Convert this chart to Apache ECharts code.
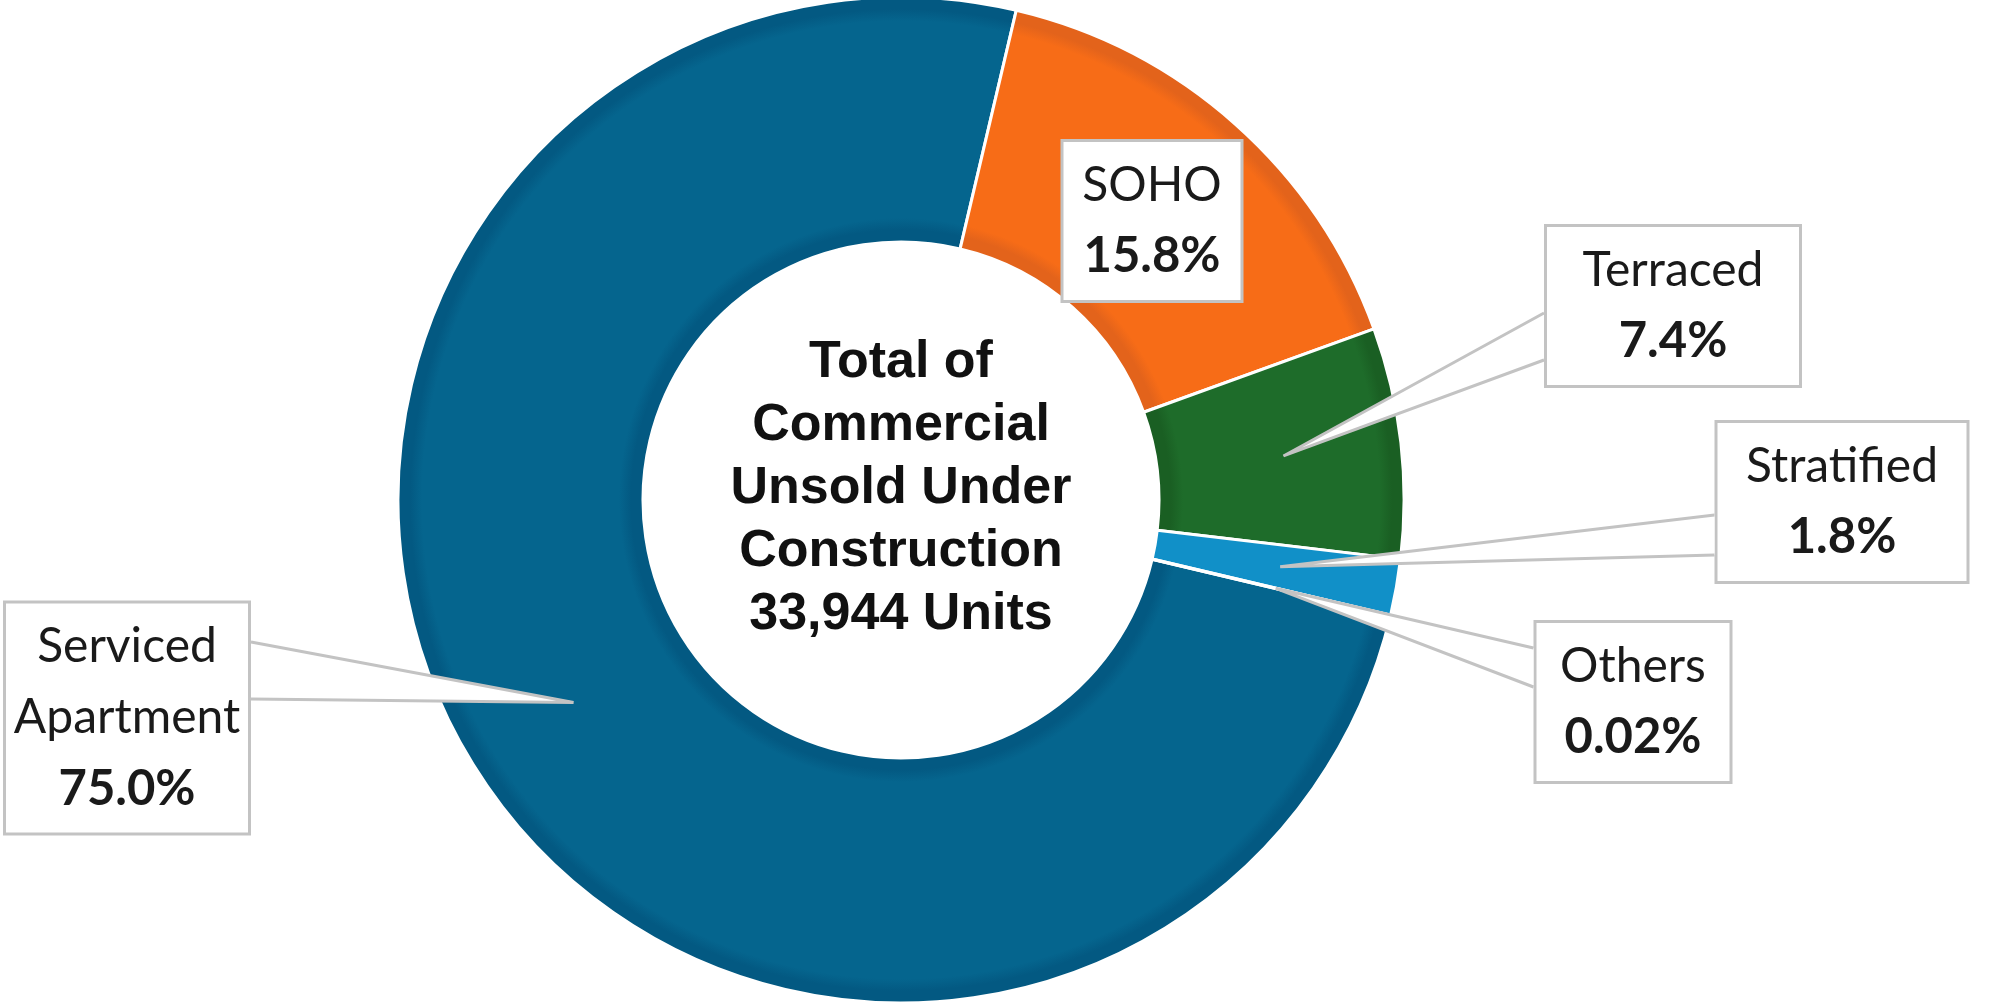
<!DOCTYPE html>
<html><head><meta charset="utf-8">
<script src="https://cdn.jsdelivr.net/npm/echarts@6/dist/echarts.min.js"></script>
<style>html,body{margin:0;padding:0;background:#fff;} #c{width:2000px;height:1003px;}</style>
</head><body><div id="c"></div>
<script>
// ---- data ----
const categories = ['Serviced Apartment', 'SOHO', 'Terraced', 'Stratified', 'Others'];
const shareValues = [75.0, 15.8, 7.4, 1.8, 0.02];
const shareLabels = ['75.0%', '15.8%', '7.4%', '1.8%', '0.02%'];
const centerLines = ['Total of', 'Commercial', 'Unsold Under', 'Construction', '33,944 Units'];

// ---- styles / layout ----
const bandColors = ['#035982', '#E3631B', '#1A5F23', '#1190C8', '#1190C8'];
const faceColors = ['#05658E', '#F76C17', '#1E6C2A', '#1190C8', '#1190C8'];
const CX = 901, CY = 500, R0 = 258, R = 503, RTIP = 385;
const PADX = 8;
const nameLines = { 'Serviced Apartment': ['Serviced', 'Apartment'] };
const place = [
  { x: 127, y: 718, w: 245, side: 'right', a: -76, b: -19 },
  { x: 1152, y: 221, w: 180 },
  { x: 1673, y: 306, w: 255, side: 'left', a: 7, b: 54 },
  { x: 1842, y: 502, w: 252, side: 'left', a: 13, b: 53 },
  { x: 1633, y: 702, w: 196, side: 'left', a: -54, b: -15 }
];

function bevelFill(i) {
  const band = bandColors[i], face = faceColors[i];
  return {
    type: 'radial', x: CX, y: CY, r: R, global: true,
    colorStops: [
      { offset: 0, color: band },
      { offset: (R0 + 12) / R, color: band },
      { offset: (R0 + 24) / R, color: face },
      { offset: (R - 24) / R, color: face },
      { offset: (R - 12) / R, color: band },
      { offset: 1, color: band }
    ]
  };
}

const chart = echarts.init(document.getElementById('c'), null, { renderer: 'canvas' });

const pieData = categories.map((c, i) => {
  const d = {
    name: c, value: shareValues[i],
    itemStyle: { color: bevelFill(i) },
    label: { width: place[i].w - 2 * PADX - 3 }
  };
  if (c === 'SOHO') { d.label.position = 'inside'; d.labelLine = { show: false }; }
  return d;
});

const textFont = 'Lato';
chart.setOption({
  animation: false,
  backgroundColor: '#ffffff',
  series: [{
    type: 'pie', silent: true,
    center: [CX, CY], radius: [R0, R],
    startAngle: 346.7, clockwise: true,
    avoidLabelOverlap: false,
    itemStyle: { borderColor: '#ffffff', borderWidth: 3 },
    label: {
      show: true, position: 'outside', overflow: 'none', align: 'center',
      formatter: function (p) {
        const lines = nameLines[p.name] || [p.name];
        return lines.map(l => '{n|' + l + '}').join('\n') + '\n{v|' + shareLabels[p.dataIndex] + '}';
      },
      backgroundColor: '#ffffff', borderColor: '#C3C3C3', borderWidth: 3,
      padding: [8, PADX],
      rich: {
        n: { fontFamily: textFont, fontSize: 48, lineHeight: 71, color: '#1a1a1a', align: 'center' },
        v: { fontFamily: textFont, fontSize: 49, fontWeight: 'bold', lineHeight: 71, color: '#1a1a1a', align: 'center' }
      }
    },
    labelLine: { show: true, length: 10, length2: 10, lineStyle: { color: '#C3C3C3', width: 3 } },
    labelLayout: function (p) {
      const pl = place[p.dataIndex];
      const out = { x: pl.x, y: pl.y, align: 'center', verticalAlign: 'middle' };
      if (pl.side && p.labelLinePoints) {
        const p0 = p.labelLinePoints[0];
        const dx = p0[0] - CX, dy = p0[1] - CY;
        const len = Math.sqrt(dx * dx + dy * dy) || 1;
        const tip = [CX + dx / len * RTIP, CY + dy / len * RTIP];
        const w = p.labelRect.width;
        const ex = pl.side === 'right' ? pl.x + w / 2 : pl.x - w / 2;
        out.labelLinePoints = [[ex, pl.y + pl.a], tip, [ex, pl.y + pl.b]];
      }
      return out;
    },
    data: pieData
  }],
  graphic: [{
    type: 'text', x: CX, y: 489, z: 100,
    style: {
      text: centerLines.join('\n'),
      fontFamily: '"Liberation Sans", Arial, sans-serif', fontSize: 52, fontWeight: 'bold',
      lineHeight: 63, fill: '#111111',
      textAlign: 'center', textVerticalAlign: 'middle', align: 'center', verticalAlign: 'middle'
    }
  }]
});

// callout wedges: white-filled, drawn over the ring
let patched = false;
function patchCallouts() {
  if (patched) return;
  try {
    const list = chart.getZr().storage.getDisplayList(true);
    list.forEach(el => {
      if (el.type === 'polyline') {
        el.style.fill = '#ffffff';
        el.z = 3; el.z2 = 50;
        el.markRedraw();
      }
    });
    chart.getZr().refresh();
    patched = true;
  } catch (e) {}
}
chart.on('finished', patchCallouts);
setTimeout(patchCallouts, 50);
</script>
</body></html>
